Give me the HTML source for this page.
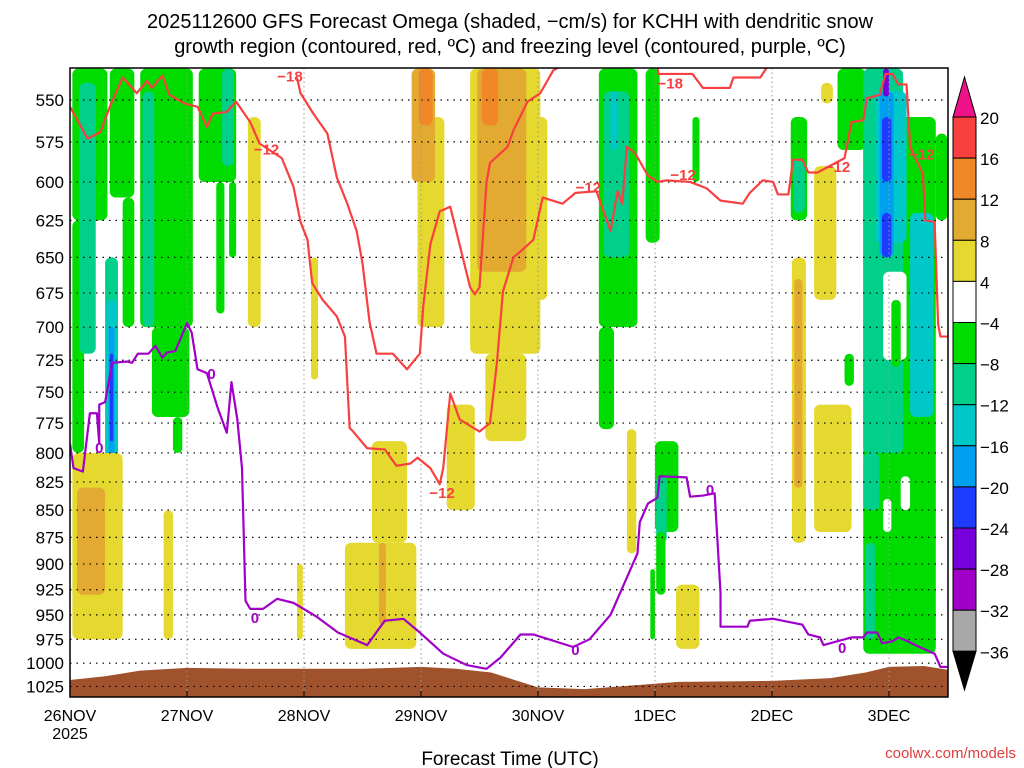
<!DOCTYPE html>
<html><head><meta charset="utf-8"><style>
html,body{margin:0;padding:0;background:#fff;width:1024px;height:768px;overflow:hidden}
svg text{font-family:"Liberation Sans","DejaVu Sans",sans-serif}
</style></head><body>
<svg id="chart" width="1024" height="768" viewBox="0 0 1024 768" xmlns="http://www.w3.org/2000/svg">
<text x="510" y="28" text-anchor="middle" font-size="20">2025112600 GFS Forecast Omega (shaded, −cm/s) for KCHH with dendritic snow</text>
<text x="510" y="53" text-anchor="middle" font-size="20">growth region (contoured, red, ºC) and freezing level (contoured, purple, ºC)</text>
<g id="shade"></g>
<g id="ground"></g>
<g id="grid"></g>
<g id="lines"></g>
<g id="axes"></g>
<g id="cbar"></g>
<text x="510" y="765" text-anchor="middle" font-size="19">Forecast Time (UTC)</text>
<text x="1016" y="758" text-anchor="end" font-size="15" fill="#e03c3c">coolwx.com/models</text>
</svg>
<script>
// ---- data ----
const dayLabels = ["26NOV","27NOV","28NOV","29NOV","30NOV","1DEC","2DEC","3DEC"];
const pressureTicks = [550,575,600,625,650,675,700,725,750,775,800,825,850,875,900,925,950,975,1000,1025];
const cbarLevels = [20,16,12,8,4,-4,-8,-12,-16,-20,-24,-28,-32,-36];
// blobs: [dayStart, dayEnd, pTop, pBottom, omegaValue]
const omegaBlobs = [
[0.02,0.32,532,625,-6],[0.02,0.12,625,800,-6],[0.34,0.55,532,610,-6],[0.45,0.55,610,700,-6],
[0.60,1.05,532,700,-6],[0.70,1.02,700,770,-6],[0.88,0.96,770,800,-6],
[1.10,1.42,532,600,-6],[1.25,1.32,600,690,-6],[1.36,1.42,600,650,-6],
[0.08,0.22,540,720,-10],[0.62,0.72,545,700,-10],[1.30,1.40,532,590,-10],
[0.30,0.41,650,860,-10],[0.31,0.40,680,840,-14],[0.33,0.38,700,830,-18],[0.34,0.37,720,790,-22],
[0.02,0.45,800,975,6],[0.06,0.30,830,930,10],[0.80,0.88,850,975,6],[1.52,1.63,560,700,6],
[1.94,1.99,900,975,6],[2.06,2.12,650,740,6],[2.35,2.96,880,985,6],[2.58,2.88,790,880,6],
[2.64,2.70,880,960,10],[2.97,3.20,560,700,6],[2.92,3.12,532,600,10],[2.98,3.10,532,565,14],
[3.22,3.46,760,850,6],[3.42,4.02,532,720,6],[3.48,3.90,532,660,10],[3.52,3.66,532,565,14],
[3.55,3.90,720,790,6],[3.96,4.08,560,680,6],
[4.52,4.85,532,700,-6],[4.52,4.65,700,780,-6],[4.56,4.78,545,650,-10],[4.62,4.68,545,580,-14],
[4.92,5.04,532,640,-6],[5.32,5.38,560,600,-6],[5.00,5.20,790,870,-6],[5.01,5.10,820,880,-10],
[5.01,5.09,870,930,-6],[4.96,5.00,905,975,-6],[5.18,5.38,920,985,6],[4.76,4.84,780,890,6],
[6.16,6.30,560,625,-6],[6.18,6.28,585,620,-10],[6.17,6.29,650,880,6],[6.19,6.26,665,830,10],
[6.42,6.52,540,552,6],[6.36,6.55,590,680,6],[6.36,6.68,760,870,6],[6.62,6.70,720,745,-6],
[6.56,6.80,532,580,-6],[6.78,7.40,560,990,-6],[7.40,7.50,570,625,-6],
[6.78,7.12,532,800,-10],[6.78,6.92,800,850,-10],[6.80,6.88,880,975,-10],
[6.88,7.15,545,640,-14],[6.92,7.04,545,650,-18],
[6.94,7.02,560,600,-22],[6.94,7.02,620,650,-22],[6.95,7.00,532,548,-26],
[7.18,7.38,620,770,-14],
[6.95,7.15,660,725,0],[7.02,7.10,680,730,-6],[6.95,7.02,840,870,0],[7.10,7.18,820,850,0]
];
const groundDays = [0,0.3,0.6,1.0,1.5,2.0,2.5,3.0,3.3,3.6,4.0,4.4,4.8,5.2,6.0,6.5,6.8,7.0,7.3,7.5];
const groundP = [1018,1014,1008,1005,1006,1006,1006,1004,1006,1010,1026,1028,1024,1020,1019,1016,1010,1004,1003,1007];
const redLowDays = [0,0.15,0.26,0.34,0.45,0.57,0.66,0.70,0.79,0.85,0.98,1.09,1.17,1.22,1.34,1.42,1.54,1.62,1.81,1.91,1.97,2.03,2.07,2.16,2.28,2.35,2.39,2.42,2.54,2.69,2.79,2.91,2.97,3.08,3.16,3.19,3.25,3.33,3.50,3.59,3.65,3.70,3.79,3.85,3.96,4.04,4.21,4.32,4.50,4.62,4.68,4.72,4.76,4.83,4.94,5.02,5.10,5.30,5.44,5.56,5.75,5.81,5.92,6.01,6.05,6.14,6.18,6.26,6.31,6.39,6.62,6.68,6.78,6.81,6.92,6.97,7.03,7.08,7.15,7.18,7.29,7.31,7.39,7.42,7.44,7.50];
const redLowP = [554,573,569,554,537,546,539,543,536,547,552,554,566,558,557,551,563,576,585,603,626,638,668,680,692,707,779,782,796,797,811,809,804,813,827,813,751,772,782,775,726,674,650,646,638,610,614,607,606,632,606,614,578,582,596,600,599,600,604,612,614,607,599,600,608,608,586,586,594,594,585,563,562,549,547,535,535,541,541,578,595,625,626,698,707,707];
const redHighDays = [1.94,1.97,2.08,2.20,2.28,2.37,2.45,2.50,2.56,2.62,2.76,2.82,2.88,2.99,3.02,3.08,3.16,3.25,3.42,3.46,3.50,3.56,3.59,3.74,3.79,3.91,4.02,4.13,4.21];
const redHighP = [537,546,558,570,597,614,632,654,696,720,720,726,732,720,684,641,619,616,671,676,671,600,588,578,568,551,546,533,530];
const redTopDays = [5.02,5.03,5.32,5.41,5.64,5.67,5.90,5.96];
const redTopP = [531,535,535,543,543,537,537,531];
const frzDays = [0,0.03,0.11,0.17,0.23,0.25,0.25,0.30,0.36,0.49,0.53,0.58,0.67,0.73,0.79,0.83,0.90,1.00,1.04,1.09,1.17,1.26,1.34,1.38,1.43,1.47,1.50,1.54,1.65,1.77,1.91,2.11,2.29,2.54,2.69,2.85,2.99,3.19,3.39,3.56,3.68,3.85,3.96,4.30,4.44,4.62,4.85,4.87,4.94,5.02,5.04,5.27,5.30,5.41,5.51,5.56,5.56,5.79,5.81,6.01,6.26,6.31,6.41,6.44,6.68,6.78,6.81,6.90,6.94,7.03,7.08,7.16,7.26,7.39,7.44,7.50];
const frzP = [792,813,816,767,767,792,760,758,727,726,727,720,720,714,723,719,718,697,704,732,735,762,783,742,772,813,936,944,944,934,938,952,968,981,956,954,968,990,1002,1006,994,970,970,983,975,950,890,861,844,839,820,821,838,837,835,928,962,962,956,954,960,970,973,981,973,973,968,968,979,977,973,977,983,990,1004,1004];
const redLabels = [[1.88,536,"−18"],[1.68,579,"−12"],[3.18,834,"−12"],[4.43,603,"−12"],[5.24,595,"−12"],[6.56,590,"−12"],[7.28,582,"−12"],[5.13,540,"−18"]];
const frzLabels = [[0.25,795,"0"],[1.21,735,"0"],[1.58,952,"0"],[4.32,985,"0"],[5.47,831,"0"],[6.60,983,"0"]];

// ---- scales ----
const X0=70,X1=948,Y0=68,Y1=697,PXDAY=117;
const xs = d => X0 + d*PXDAY;
const ys = p => 100 + 942*Math.log(p/550);
const NS="http://www.w3.org/2000/svg";
function mk(tag,attrs,parent){const e=document.createElementNS(NS,tag);for(const k in attrs)e.setAttribute(k,attrs[k]);parent.appendChild(e);return e;}
function colorFor(v){
  if(v>=20)return"#ee1188";if(v>=16)return"#f84040";if(v>=12)return"#f08828";if(v>=8)return"#e2aa30";if(v>=4)return"#e5d930";
  if(v>-4)return"#ffffff";if(v>-8)return"#00dc00";if(v>-12)return"#00d08a";if(v>-16)return"#00c8c8";if(v>-20)return"#00a0f0";
  if(v>-24)return"#1e3cff";if(v>-28)return"#7800dc";if(v>-32)return"#a000c8";if(v>-36)return"#a8a8a8";return"#000";
}
const shade=document.getElementById('shade');
const clip=mk('clipPath',{id:'pc'},document.getElementById('chart'));
mk('rect',{x:X0,y:Y0,width:X1-X0,height:Y1-Y0},clip);
shade.setAttribute('clip-path','url(#pc)');
omegaBlobs.forEach((b,i)=>{
  const x=xs(b[0]),w=xs(b[1])-x,y=ys(b[2]),h=ys(b[3])-y;
  const r=mk('rect',{x:x,y:y,width:w,height:h,rx:Math.min(w/2,6),fill:colorFor(b[4])},shade);
  
  
});
// ground
const g=document.getElementById('ground');
let gd=`M${X0},${Y1} `+groundDays.map((d,i)=>`L${xs(d)},${ys(groundP[i])}`).join(' ')+` L${X1},${Y1} Z`;
const gp=mk('path',{d:gd,fill:'#a0522d'},g);


// grid
const grid=document.getElementById('grid');
pressureTicks.forEach(p=>{const y=ys(p);if(y>Y0&&y<Y1){const l=mk('line',{x1:X0,x2:X1,y1:y,y2:y,stroke:'#000','stroke-width':1.2,'stroke-dasharray':'1.5,5'},grid);

}});
dayLabels.forEach((d,i)=>{if(i>0){const x=xs(i);const l=mk('line',{x1:x,x2:x,y1:Y0,y2:Y1,stroke:'#999','stroke-width':1,'stroke-dasharray':'1.5,3'},grid);

}});
// lines
const lg=document.getElementById('lines');
lg.setAttribute('clip-path','url(#pc)');
function poly(days,ps,color,name){const pl=mk('polyline',{points:days.map((d,i)=>xs(d)+','+ys(ps[i])).join(' '),fill:'none',stroke:color,'stroke-width':2.2,'stroke-linejoin':'round'},lg);

}
poly(redLowDays,redLowP,'#f84040','dgz-minus12-contour');
poly(redHighDays,redHighP,'#f84040','dgz-minus18-contour');
poly(redTopDays,redTopP,'#f84040','dgz-minus18-contour-top');
poly(frzDays,frzP,'#a000c8','freezing-level-contour');
function lab(arr,color,name){arr.forEach(a=>{const t=mk('text',{x:xs(a[0]),y:ys(a[1])+6,'text-anchor':'middle','font-size':15,'font-weight':'bold',fill:color},lg);t.textContent=a[2];

});}
lab(redLabels,'#f84040','dgz-contour-label');
lab(frzLabels,'#a000c8','freezing-contour-label');
// axes
const ax=document.getElementById('axes');
const fr=mk('rect',{x:X0,y:Y0,width:X1-X0,height:Y1-Y0,fill:'none',stroke:'#000','stroke-width':1.5},ax);


pressureTicks.forEach(p=>{const t=mk('text',{x:64,y:ys(p)+6,'text-anchor':'end','font-size':17},ax);t.textContent=p;

});
dayLabels.forEach((d,i)=>{const t=mk('text',{x:xs(i),y:721,'text-anchor':'middle','font-size':16},ax);t.textContent=d;


mk('line',{x1:xs(i),x2:xs(i),y1:Y1,y2:Y1-6,stroke:'#000'},ax);});
const yr=mk('text',{x:xs(0),y:739,'text-anchor':'middle','font-size':16},ax);yr.textContent="2025";


// colorbar
const cb=document.getElementById('cbar');
const CX=953,CW=23,CT=117,CH=41.1;
const tri1=mk('polygon',{points:`${CX},${CT} ${CX+CW},${CT} ${CX+CW/2},77`,fill:colorFor(20),stroke:'#000'},cb);


for(let i=0;i<cbarLevels.length-1;i++){
  const mid=(cbarLevels[i]+cbarLevels[i+1])/2;
  const r=mk('rect',{x:CX,y:CT+i*CH,width:CW,height:CH,fill:colorFor(mid),stroke:'#000','stroke-width':1},cb);
  
  
}
const yb=CT+(cbarLevels.length-1)*CH;
const tri2=mk('polygon',{points:`${CX},${yb} ${CX+CW},${yb} ${CX+CW/2},690`,fill:'#000',stroke:'#000'},cb);


cbarLevels.forEach((v,i)=>{const t=mk('text',{x:980,y:CT+i*CH+7,'font-size':17},cb);t.textContent=v<0?'−'+(-v):v;

});
</script>
</body></html>
